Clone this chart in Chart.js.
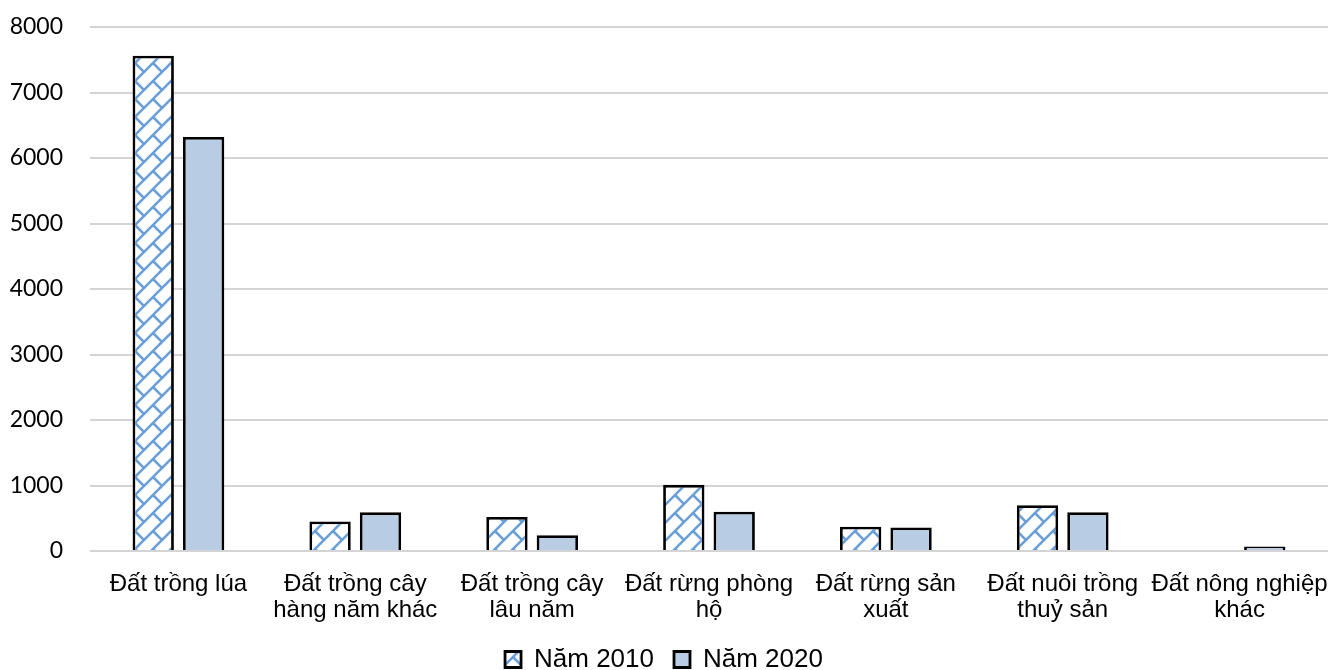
<!DOCTYPE html>
<html lang="vi">
<head>
<meta charset="utf-8">
<title>Diện tích đất nông nghiệp</title>
<script src="https://cdn.jsdelivr.net/npm/chart.js@4/dist/chart.umd.min.js"></script>
<style>
  html, body { margin: 0; padding: 0; background: #ffffff; }
  #wrap { width: 1328px; height: 670px; position: relative; }
</style>
</head>
<body>
<div id="wrap"><canvas id="chart" width="1328" height="670"></canvas></div>
<script>
// Land categories (two-line labels where the text wraps)
const categories = [
  'Đất trồng lúa',
  ['Đất trồng cây', 'hàng năm khác'],
  ['Đất trồng cây', 'lâu năm'],
  ['Đất rừng phòng', 'hộ'],
  ['Đất rừng sản', 'xuất'],
  ['Đất nuôi trồng', 'thuỷ sản'],
  ['Đất nông nghiệp', 'khác']
];
const seriesNames = ['Năm 2010', 'Năm 2020'];
const values2010 = [7560, 450, 520, 1010, 370, 700, null];
const values2020 = [6320, 590, 240, 600, 360, 590, 70];
const yTicks = [0, 1000, 2000, 3000, 4000, 5000, 6000, 7000, 8000];

// Diagonal brick hatch used for the 2010 series
function brickPattern(color, size) {
  const c = document.createElement('canvas');
  c.width = c.height = size;
  const g = c.getContext('2d');
  g.fillStyle = '#ffffff';
  g.fillRect(0, 0, size, size);
  g.strokeStyle = color;
  g.lineWidth = 2.6;
  g.beginPath();
  // long "/" strokes (with wrapped copies so the tile joins cleanly)
  for (const k of [0, size, 2 * size]) {
    g.moveTo(-size, k + size);
    g.lineTo(k + size, -size);
  }
  // short connectors that offset the bricks row by row
  g.moveTo(size / 2, size / 2); g.lineTo(size, size);
  g.moveTo(-size / 2, -size / 2); g.lineTo(0, 0);
  g.stroke();
  return g.createPattern(c, 'repeat');
}

const ctx = document.getElementById('chart').getContext('2d');
const hatch = brickPattern('#6a9fd8', 18);

new Chart(ctx, {
  type: 'bar',
  data: {
    labels: categories,
    datasets: [
      {
        label: seriesNames[0],
        data: values2010,
        backgroundColor: hatch,
        borderColor: '#000000',
        borderWidth: 2.8,
        borderSkipped: 'start'
      },
      {
        label: seriesNames[1],
        data: values2020,
        backgroundColor: '#b8cce4',
        borderColor: '#000000',
        borderWidth: 2.8,
        borderSkipped: 'start'
      }
    ]
  },
  options: {
    responsive: false,
    animation: false,
    devicePixelRatio: 1,
    categoryPercentage: 0.57,
    barPercentage: 0.82,
    layout: { padding: { top: 27, right: 0, left: 0, bottom: -12.5 } },
    plugins: {
      tooltip: { enabled: false },
      legend: {
        position: 'bottom',
        labels: {
          color: '#000000',
          boxWidth: 16,
          boxHeight: 16,
          padding: 20,
          font: { family: '"Liberation Sans", Arial, sans-serif', size: 26 }
        }
      }
    },
    scales: {
      x: {
        grid: { display: false, drawTicks: false },
        border: { display: false },
        ticks: {
          color: '#000000',
          autoSkip: false,
          maxRotation: 0,
          padding: 20,
          font: { family: '"Liberation Sans", Arial, sans-serif', size: 24, lineHeight: 1.08 }
        },
        afterFit: (scale) => {
          scale.height = 75.5;
          scale.paddingLeft = 0;
          scale.paddingRight = 0;
        }
      },
      y: {
        min: 0,
        max: 8000,
        afterBuildTicks: (scale) => { scale.ticks = yTicks.map(v => ({ value: v })); },
        grid: { color: '#d4d4d4', lineWidth: 2, drawTicks: false },
        border: { display: false },
        ticks: {
          color: '#000000',
          padding: 27,
          callback: (v) => String(v),
          font: { family: 'Lato, "Open Sans", sans-serif', size: 23 }
        },
        afterFit: (scale) => {
          scale.width = 90;
          scale.paddingTop = 0;
          scale.paddingBottom = 0;
        }
      }
    }
  }
});
</script>
</body>
</html>
